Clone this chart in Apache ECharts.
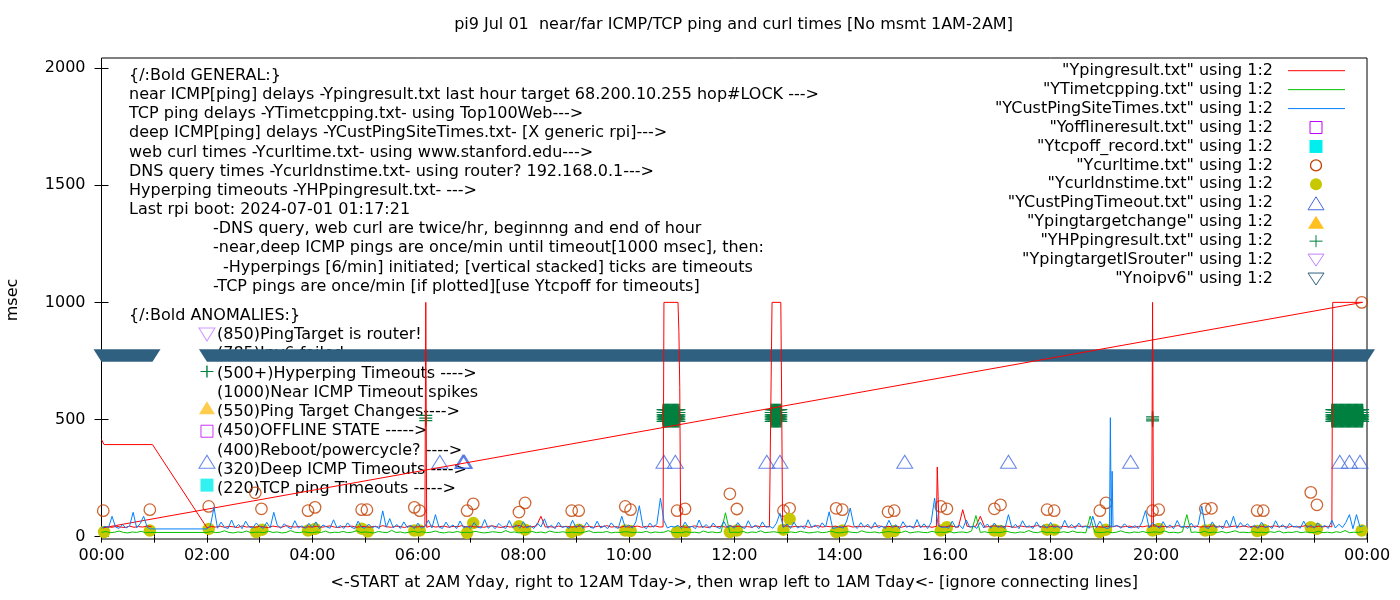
<!DOCTYPE html>
<html>
<head>
<meta charset="utf-8">
<title>pi9 ping and curl times</title>
<script src="https://cdn.jsdelivr.net/npm/echarts@6/dist/echarts.min.js"></script>
<style>
html,body{margin:0;padding:0;background:#fff;}
#main{width:1400px;height:600px;}
</style>
</head>
<body>
<div id="main"></div>
<script>
// x = minute of day, y = msec
// near ICMP ping (red): odd lead-in, then 2:00->24:00 every 5 min, then wrap 0:00->1:00
var pingLead = [[0,414],[3,393],[58,393]];
var pingDay = [
  38,43,41,45,40,44,42,39,46,41,43,40,
  44,41,39,45,42,40,47,43,41,44,39,42,
  41,45,40,43,46,41,39,44,42,45,40,43,
  43,40,44,41,47,42,40,45,43,39,46,41,
  42,44,40,46,41,43,45,40,44,42,47,41,
  45,41,43,40,44,46,42,39,45,41,43,48,
  40,44,42,46,87,41,43,40,45,42,44,41,
  43,46,41,44,40,45,42,47,41,43,40,44,
  41,43,45,40,44,42,46,41,43,45,40,42,
  44,40,42,46,41,43,39,45,42,44,41,47,
  42,45,41,43,40,46,42,44,41,43,45,40,
  46,41,44,42,45,40,43,47,41,44,42,45,
  40,43,46,41,44,42,45,40,43,46,41,44,
  42,44,40,45,43,41,46,42,44,40,45,43,
  41,46,43,40,115,44,42,45,87,41,43,46,
  44,41,45,42,40,46,43,41,44,47,42,40,
  43,45,41,44,42,40,46,43,45,41,44,42,
  40,44,42,46,41,43,45,40,44,42,46,41,
  45,42,44,41,43,47,40,44,42,45,41,43,
  42,46,41,44,40,43,45,42,46,41,44,40,
  44,41,43,46,42,45,40,44,41,43,47,42,
  41,45,42,44,40,43,46,41,44,42,45,43
];
var pingWrap = [38,42,40,44,41,39,45,40,43,41,46,42];
var pingEvents = [
  [[368,42],[369,1000],[370,40]],
  [[639,42],[640,1000],[656,1000],[657,876],[658,636],[659,44]],
  [[762,42],[763,1000],[773,1000],[774,555],[775,44]],
  [[950,44],[951,297],[952,172],[953,44]],
  [[1195,42],[1196,1000],[1197,45]],
  [[1400,42],[1401,1000],[1435,1000]]
];

// TCP ping (green): wrap 0:00->1:00 then 2:00->24:00, every 5 min
var tcpWrap = [18,22,17,19,24,18,16,20,18,23,17,18];
var tcpDay = [
  18,22,17,19,25,18,16,20,18,24,17,19,
  19,17,23,18,20,16,18,26,19,17,21,18,
  17,20,18,24,16,19,18,22,17,19,25,18,
  20,18,16,22,19,17,27,18,20,16,19,23,
  18,21,17,19,24,18,16,20,18,22,17,19,
  17,23,19,16,18,21,19,17,26,18,20,16,
  19,18,22,17,20,16,24,19,18,21,17,19,
  18,16,20,25,17,19,18,22,16,19,18,21,
  20,17,19,18,23,16,20,18,19,26,17,18,
  17,21,18,19,16,24,18,20,17,19,102,18,
  19,18,22,16,20,18,25,17,19,21,18,16,
  18,20,17,23,19,16,18,21,17,19,24,18,
  16,19,21,18,17,25,19,18,20,16,19,22,
  20,17,18,24,16,19,21,18,17,23,18,19,
  18,22,16,19,20,17,24,90,18,21,17,19,
  17,19,23,18,16,20,18,26,19,17,22,18,
  19,16,18,21,17,24,18,19,16,88,20,18,
  18,21,17,19,25,18,16,20,18,22,17,19,
  20,18,24,17,19,16,21,94,18,20,17,23,
  17,19,18,22,16,20,25,18,19,17,21,18,
  19,17,21,18,24,16,19,18,22,17,20,18,
  18,23,17,19,16,21,18,26,17,19,18,22
];

// deep ICMP ping (blue): wrap 0:00->1:00 then 2:00->24:00, every 4 min
var deepWrap = [36,44,38,87,41,35,52,37,46,104,38,55,87,40,33];
var deepDay = [
  33,48,125,36,62,40,35,71,38,52,34,66,41,37,58,
  44,35,61,38,104,49,36,55,40,34,68,37,46,35,57,
  39,63,34,50,42,36,72,38,47,35,59,41,34,66,40,
  36,54,38,45,34,110,40,77,37,52,35,63,39,48,34,
  58,36,44,70,37,94,41,35,62,39,50,34,67,38,45,
  35,60,40,37,73,36,48,34,57,42,35,69,38,51,36,
  64,37,46,35,58,41,76,36,49,34,62,39,44,35,70,
  38,52,35,61,40,36,66,37,47,34,59,42,35,87,39,
  50,36,63,132,45,34,58,40,55,165,68,37,44,41,48,
  35,62,39,44,34,71,37,52,36,58,40,35,66,38,47,
  36,60,41,35,68,38,49,34,63,40,45,36,57,100,39,
  54,35,62,37,46,34,72,39,50,36,59,41,106,35,38,
  44,36,67,122,48,35,60,40,53,34,61,37,45,35,70,
  38,51,34,64,40,46,36,73,37,55,35,60,165,48,39,
  42,36,66,38,50,34,71,40,45,35,62,37,54,36,58,
  39,47,35,94,37,53,34,68,41,46,35,63,38,50,36,
  61,37,45,34,70,39,52,35,58,40,44,36,87,38,66,
  41,35,38,40,48,36,55,40,38,47,35,62,111,37,60,
  46,36,64,38,50,34,69,40,45,35,58,37,52,130,39,
  35,63,38,47,34,71,40,87,36,60,42,55,37,49,35,
  62,38,46,35,68,39,51,34,57,41,45,36,66,38,50,
  36,59,40,48,35,70,37,53,39,61,94,34,94,42,47
];
var deepEvents = [
  [[1147,38],[1148,508],[1149,40],[1150,279],[1151,42]]
];

// web curl times (brown circles)
var curlMin  = [2,55,122,175,182,235,243,296,302,356,362,416,423,475,482,535,543,596,602,655,664,715,723,776,783,836,843,895,902,955,962,1016,1023,1076,1084,1136,1143,1196,1203,1256,1263,1315,1322,1376,1383,1434];
var curlMsec = [111,115,129,187,119,111,125,115,115,125,111,111,140,105,144,111,111,129,115,111,119,183,118,111,121,121,115,106,111,129,119,119,136,115,111,111,144,111,115,119,121,111,111,189,136,1000];

// DNS query times (olive dots)
var dnsMin  = [3,55,122,176,183,235,243,296,303,356,362,416,423,475,482,535,543,596,602,655,664,715,723,776,783,836,843,895,902,955,962,1016,1023,1076,1084,1136,1143,1196,1203,1256,1263,1315,1322,1376,1383,1434];
var dnsMsec = [20,26,33,20,30,26,33,34,22,26,26,16,58,44,30,20,30,26,24,20,24,20,26,30,75,20,26,20,24,26,40,26,24,30,30,20,30,26,33,26,30,24,30,40,33,26];

// deep ICMP timeouts (open triangles) at 320
var deepToLevel = 320;
var deepToMin = [120,385,411,412,413,640,653,757,772,914,1032,1171,1409,1420,1432];

// single marker points at the 2AM start
var offlinePts = [[120,450]];
var tcpOffPts = [[120,220]];
var targetChangePts = [[120,550]];
var isRouterPts = [[120,850]];

// hyperping timeouts: stacked ticks
var hpStart = [[120,705]];
var hpStackMin = [369,1196];
var hpStackLevels = [[495,506,518],[494,502,511]];
var hpBlockMin = [
  639,640,641,642,643,644,645,646,647,648,649,650,651,652,653,654,655,656,657,
  762,763,764,765,766,767,768,769,770,771,772,773,
  1400,1401,1402,1403,1404,1405,1406,1407,1408,1409,1410,1411,1412,1413,1414,1415,1416,1417,
  1418,1419,1420,1421,1422,1423,1424,1425,1426,1427,1428,1429,1430,1431,1432,1433,1434,1435
];
var hpBlockLevels = [492,502,511,520,530,542];

// no ipv6: spans of per-minute markers at 785
var noIpv6Level = 785;
var noIpv6Spans = [[0,58],[120,1440]];

var legendNames = [
  '"Ypingresult.txt" using 1:2',
  '"YTimetcpping.txt" using 1:2',
  '"YCustPingSiteTimes.txt" using 1:2',
  '"Yofflineresult.txt" using 1:2',
  '"Ytcpoff_record.txt" using 1:2',
  '"Ycurltime.txt" using 1:2',
  '"Ycurldnstime.txt" using 1:2',
  '"YCustPingTimeout.txt" using 1:2',
  '"Ypingtargetchange" using 1:2',
  '"YHPpingresult.txt" using 1:2',
  '"YpingtargetISrouter" using 1:2',
  '"Ynoipv6" using 1:2'
];

var generalLines = [
  '{/:Bold GENERAL:}',
  'near ICMP[ping] delays -Ypingresult.txt last hour target 68.200.10.255 hop#LOCK --->',
  'TCP ping delays -YTimetcpping.txt- using Top100Web--->',
  'deep ICMP[ping] delays -YCustPingSiteTimes.txt- [X generic rpi]--->',
  'web curl times -Ycurltime.txt- using www.stanford.edu--->',
  'DNS query times -Ycurldnstime.txt- using router? 192.168.0.1--->',
  'Hyperping timeouts -YHPpingresult.txt- --->',
  'Last rpi boot: 2024-07-01 01:17:21',
  '-DNS query, web curl are twice/hr, beginnng and end of hour',
  '-near,deep ICMP pings are once/min until timeout[1000 msec], then:',
  '  -Hyperpings [6/min] initiated; [vertical stacked] ticks are timeouts',
  '-TCP pings are once/min [if plotted][use Ytcpoff for timeouts]'
];
var anomalyLines = [
  '(850)PingTarget is router!',
  '(785)Ipv6 failed',
  '(500+)Hyperping Timeouts ---->',
  '(1000)Near ICMP Timeout spikes',
  '(550)Ping Target Changes---->',
  '(450)OFFLINE STATE ----->',
  '(400)Reboot/powercycle? ---->',
  '(320)Deep ICMP Timeouts ---->',
  '(220)TCP ping Timeouts ----->'
];

var C = {
  red:'#ff0000', green:'#00c000', blue:'#0080ff', purple:'#c000ff', cyan:'#00eeee',
  brown:'#c04000', olive:'#c8c800', royal:'#4169e1', gold:'#ffc020',
  dkgreen:'#008040', lavender:'#c080ff', steel:'#306080'
};
var FS = 16;
var FONT = FS + 'px "DejaVu Sans"';
var PLUS = 'path://M0,5.4H13V6.6H0Z M5.8,0H7.2V12H5.8Z';

function toPoints(t0, step, vals){
  return vals.map(function(v, i){ return [t0 + i * step, v]; });
}
function withEvents(pts, events){
  events.forEach(function(ev){
    var a = ev[0][0], b = ev[ev.length - 1][0];
    pts = pts.filter(function(p){ return p[0] < a || p[0] > b; }).concat(ev);
  });
  return pts.sort(function(p, q){ return p[0] - q[0]; });
}
function zip(xs, ys){ return xs.map(function(x, i){ return [x, ys[i]]; }); }

var pingData = pingLead.concat(withEvents(toPoints(120, 5, pingDay), pingEvents), toPoints(2, 5, pingWrap));
var tcpData = toPoints(0, 5, tcpWrap).concat(toPoints(120, 5, tcpDay));
var deepData = toPoints(0, 4, deepWrap).concat(withEvents(toPoints(120, 4, deepDay), deepEvents));
var curlData = zip(curlMin, curlMsec);
var dnsData = zip(dnsMin, dnsMsec);
var deepToData = deepToMin.map(function(m){ return [m, deepToLevel]; });
var hpData = hpStart.slice();
hpStackMin.forEach(function(m, i){
  hpStackLevels[i].forEach(function(l){ hpData.push([m, l]); });
});
hpBlockMin.forEach(function(m){
  hpBlockLevels.forEach(function(l){ hpData.push([m, l]); });
});
var bandData = noIpv6Spans.map(function(s){ return [s[0], s[1], noIpv6Level]; });

// ---- text and legend (drawn as graphics) ----
var graphics = [];
function txt(x, y, s, align){
  graphics.push({type:'text', x:x, y:y, z:-1, silent:true,
    style:{text:s, fill:'#000', font:FONT, align:align || 'left', textAlign:align || 'left',
           verticalAlign:'middle', textVerticalAlign:'middle'}});
}
txt(733.5, 25, 'pi9 Jul 01  near/far ICMP/TCP ping and curl times [No msmt 1AM-2AM]', 'center');
generalLines.forEach(function(s, i){
  var x = 129;
  if (i >= 8) x = 213;
  if (i === 10) { x = 223; s = s.trim(); }
  txt(x, 75.7 + i * 19.18, s);
});
txt(129, 315.5, '{/:Bold ANOMALIES:}');
anomalyLines.forEach(function(s, i){ txt(217, 334.8 + i * 19.3, s); });
graphics.push({type:'text', x:13, y:300, rotation:Math.PI / 2, silent:true,
  style:{text:'msec', fill:'#000', font:FONT, align:'center', textAlign:'center',
         verticalAlign:'middle', textVerticalAlign:'middle'}});

var legendIcons = [
  ['line', C.red], ['line', C.green], ['line', C.blue],
  ['square', C.purple], ['fsquare', C.cyan], ['circle', C.brown], ['fcircle', C.olive],
  ['tri', C.royal], ['ftri', C.gold], ['plus', C.dkgreen], ['dtri', C.lavender], ['dtri', C.steel]
];
function icon(kind, color, cx, cy){
  var st = {fill:'none', stroke:color, lineWidth:1};
  var fs = {fill:color};
  if (kind === 'line') return {type:'line', shape:{x1:1288, y1:cy, x2:1345, y2:cy}, style:st};
  if (kind === 'square') return {type:'rect', shape:{x:cx - 6, y:cy - 6, width:12, height:12}, style:st};
  if (kind === 'fsquare') return {type:'rect', shape:{x:cx - 6.5, y:cy - 6.5, width:13, height:13}, style:fs};
  if (kind === 'circle') return {type:'circle', shape:{cx:cx, cy:cy, r:5.5}, style:{fill:'none', stroke:color, lineWidth:1.3}};
  if (kind === 'fcircle') return {type:'circle', shape:{cx:cx, cy:cy, r:6}, style:fs};
  if (kind === 'tri') return {type:'polygon', shape:{points:[[cx, cy - 6.5], [cx + 8, cy + 6.5], [cx - 8, cy + 6.5]]}, style:st};
  if (kind === 'ftri') return {type:'polygon', shape:{points:[[cx, cy - 6.5], [cx + 8, cy + 6.5], [cx - 8, cy + 6.5]]}, style:fs};
  if (kind === 'dtri') return {type:'polygon', shape:{points:[[cx - 8, cy - 6], [cx + 8, cy - 6], [cx, cy + 6]]}, style:st};
  return {type:'group', children:[
    {type:'line', shape:{x1:cx - 6.5, y1:cy, x2:cx + 6.5, y2:cy}, style:st},
    {type:'line', shape:{x1:cx, y1:cy - 6, x2:cx, y2:cy + 6}, style:st}
  ]};
}
legendNames.forEach(function(name, i){
  var y = 70.7 + i * 18.94;
  txt(1273, y, name, 'right');
  var ic = icon(legendIcons[i][0], legendIcons[i][1], 1316, y);
  ic.silent = true;
  graphics.push(ic);
});

function hourLabel(v){
  if (v % 120) return '';
  var h = (v / 60) % 24;
  return (h < 10 ? '0' : '') + h + ':00';
}
var yTicks = [0, 500, 1000, 1500, 2000];

var chart = echarts.init(document.getElementById('main'), null, {renderer:'canvas'});
chart.setOption({
  animation: false,
  backgroundColor: '#fff',
  textStyle: {fontFamily:'DejaVu Sans'},
  grid: {left:101.5, top:58, width:1265.5, height:481, show:true, borderColor:'#000', borderWidth:1, backgroundColor:'transparent'},
  xAxis: [{
    type:'value', min:0, max:1440, interval:60,
    axisLine:{show:false}, splitLine:{show:false},
    axisTick:{inside:true, length:6, lineStyle:{color:'#000'}},
    axisLabel:{formatter:hourLabel, color:'#000', fontSize:FS, margin:9, showMinLabel:true, showMaxLabel:true},
    name:'<-START at 2AM Yday, right to 12AM Tday->, then wrap left to 1AM Tday<- [ignore connecting lines]',
    nameLocation:'middle', nameGap:36, nameTextStyle:{color:'#000', fontSize:FS}
  }, {
    type:'value', position:'top', min:0, max:1440, interval:60,
    axisLine:{show:false}, splitLine:{show:false}, axisLabel:{show:false},
    axisTick:{inside:true, length:6, lineStyle:{color:'#000'}}
  }],
  yAxis: [{
    type:'value', min:-10, max:2043,
    axisLine:{show:false}, splitLine:{show:false},
    axisTick:{inside:true, length:7, customValues:yTicks, lineStyle:{color:'#000'}},
    axisLabel:{customValues:yTicks, color:'#000', fontSize:FS, margin:16,
               formatter:function(v){ return String(v); }}
  }, {
    type:'value', position:'right', min:-10, max:2043,
    axisLine:{show:false}, splitLine:{show:false}, axisLabel:{show:false},
    axisTick:{inside:true, length:7, customValues:yTicks, lineStyle:{color:'#000'}}
  }],
  graphic: graphics,
  series: [
    {name:legendNames[0], type:'line', data:pingData, symbol:'none', silent:true,
     lineStyle:{width:1, color:C.red}, itemStyle:{color:C.red}},
    {name:legendNames[1], type:'line', data:tcpData, symbol:'none', silent:true,
     lineStyle:{width:1, color:C.green}, itemStyle:{color:C.green}},
    {name:legendNames[2], type:'line', data:deepData, symbol:'none', silent:true,
     lineStyle:{width:1, color:C.blue}, itemStyle:{color:C.blue}},
    {name:legendNames[3], type:'scatter', data:offlinePts, symbol:'rect', symbolSize:12, silent:true,
     itemStyle:{color:'transparent', borderColor:C.purple, borderWidth:1}},
    {name:legendNames[4], type:'scatter', data:tcpOffPts, symbol:'rect', symbolSize:13, silent:true,
     itemStyle:{color:C.cyan}},
    {name:legendNames[5], type:'scatter', data:curlData, symbol:'circle', symbolSize:11.5, silent:true,
     itemStyle:{color:'transparent', borderColor:C.brown, borderWidth:1.3}},
    {name:legendNames[6], type:'scatter', data:dnsData, symbol:'circle', symbolSize:12.5, silent:true,
     itemStyle:{color:C.olive, opacity:1}},
    {name:legendNames[7], type:'scatter', data:deepToData, symbol:'triangle', symbolSize:[16,13], silent:true,
     itemStyle:{color:'transparent', borderColor:C.royal, borderWidth:1}},
    {name:legendNames[8], type:'scatter', data:targetChangePts, symbol:'triangle', symbolSize:[16,13], silent:true,
     itemStyle:{color:C.gold}},
    {name:legendNames[9], type:'scatter', data:hpData, symbol:PLUS, symbolSize:[13,12], silent:true,
     itemStyle:{color:C.dkgreen, opacity:1}},
    {name:legendNames[10], type:'scatter', data:isRouterPts, symbol:'triangle', symbolRotate:180,
     symbolSize:[16,13], symbolOffset:[0,-3], silent:true,
     itemStyle:{color:'transparent', borderColor:C.lavender, borderWidth:1}},
    {name:legendNames[11], type:'custom', data:bandData, encode:{x:[0,1], y:2}, silent:true,
     renderItem:function(params, api){
       var a = api.coord([api.value(0), api.value(2)]);
       var b = api.coord([api.value(1), api.value(2)]);
       return {type:'polygon',
         shape:{points:[[a[0] - 8, a[1] - 3.5], [b[0] + 8, b[1] - 3.5], [b[0], b[1] + 9], [a[0], a[1] + 9]]},
         style:{fill:C.steel}};
     }}
  ]
});
</script>
</body>
</html>
